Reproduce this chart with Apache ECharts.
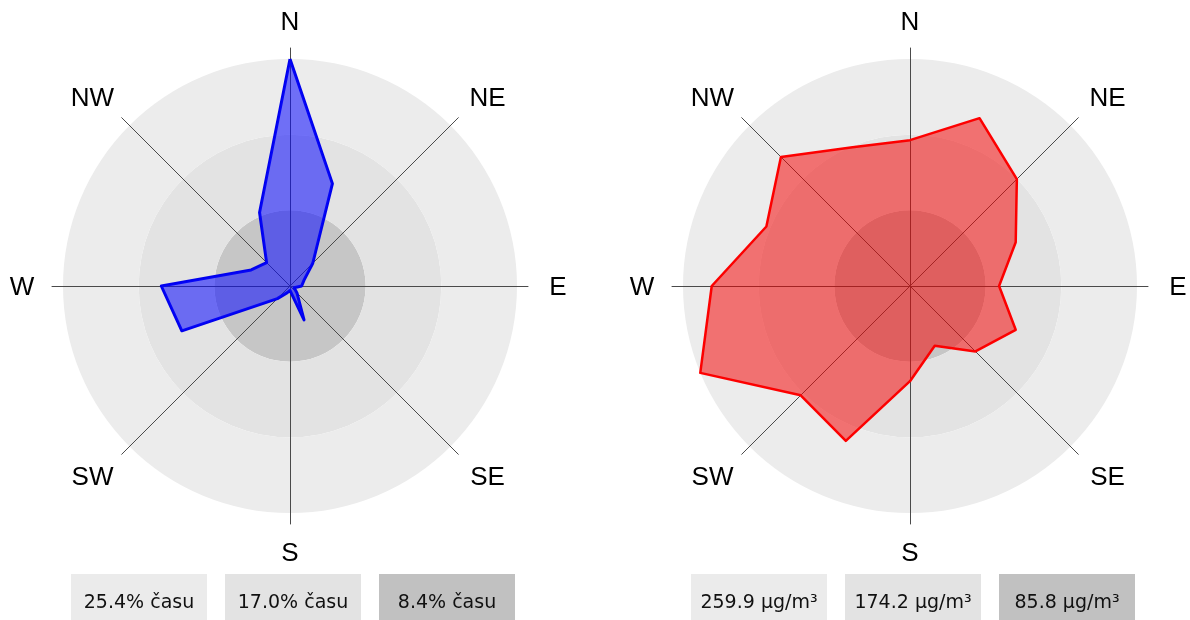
<!DOCTYPE html>
<html>
<head>
<meta charset="utf-8">
<script src="https://cdn.jsdelivr.net/npm/echarts@6/dist/echarts.min.js"></script>
<style>
  html, body { margin: 0; padding: 0; background: #ffffff; }
  #chart { width: 1190px; height: 620px; }
</style>
</head>
<body>
<div id="chart"></div>
<script>
// 16 compass directions, clockwise from North
var directions = ['N','NNE','NE','ENE','E','ESE','SE','SSE','S','SSW','SW','WSW','W','WNW','NW','NNW'];
// share of time per wind direction (%)
var timeShare = [25.4, 12.4, 3.6, 1.7, 1.3, 0.5, 1.1, 4.1, 0.5, 0.8, 2.0, 13.1, 14.4, 4.7, 3.7, 8.9];
// mean concentration per wind direction (µg/m³)
var concentration = [167, 208, 173, 131, 102, 131, 106, 74, 109, 192, 177, 259.9, 227, 178, 209, 172];
// ring values (outer, middle, inner)
var timeRings = [25.4, 17.0, 8.4];
var concRings = [259.9, 174.2, 85.8];
var timeRingLabels = timeRings.map(function (v) { return v.toFixed(1) + '% času'; });
var concRingLabels = concRings.map(function (v) { return v.toFixed(1) + ' µg/m³'; });
// labelled main directions (clockwise from North)
var mainDirections = ['N','NE','E','SE','S','SW','W','NW'];

// ECharts radar lays indicators out counter-clockwise: reorder
function ccw(arr) {
  var out = [arr[0]];
  for (var i = arr.length - 1; i >= 1; i--) out.push(arr[i]);
  return out;
}

var chart = echarts.init(document.getElementById('chart'), null, { renderer: 'canvas' });

var ringColors = ['#c6c6c6', '#e3e3e3', '#ececec'];
var boxColors = ['#ebebeb', '#e3e3e3', '#c1c1c1'];

function dataRadar(cx, max) {
  return {
    center: [cx, 286],
    radius: 227,
    startAngle: 90,
    shape: 'circle',
    splitNumber: 3,
    indicator: directions.map(function () { return { name: '', max: max, min: 0 }; }),
    axisName: { show: false },
    axisLine: { show: false },
    axisTick: { show: false },
    axisLabel: { show: false },
    splitLine: { show: false },
    splitArea: { show: true, areaStyle: { color: ringColors } }
  };
}
function axisRadar(cx) {
  return {
    center: [cx, 286],
    radius: 238,
    startAngle: 90,
    shape: 'polygon',
    indicator: ccw(mainDirections).map(function (d) { return { name: d, max: 1, min: 0 }; }),
    axisName: { show: false },
    axisLine: { show: true, lineStyle: { color: '#4a4a4a', width: 1 } },
    axisTick: { show: false },
    axisLabel: { show: false },
    splitLine: { show: false },
    splitArea: { show: false }
  };
}
function labelPolar(cx) {
  return { center: [cx, 288], radius: 268 };
}
var hidden = { axisLine: { show: false }, axisTick: { show: false }, axisLabel: { show: false }, splitLine: { show: false }, splitArea: { show: false } };
function angleAxis(idx) {
  return Object.assign({ polarIndex: idx, type: 'category', data: mainDirections, startAngle: 90 + 180 / mainDirections.length, clockwise: true, boundaryGap: true }, hidden);
}
function radiusAxis(idx) {
  return Object.assign({ polarIndex: idx, type: 'value', min: 0, max: 1 }, hidden);
}
// small nudges so diagonal labels sit a little wider, like the reference
function labelNudge(i) {
  if (i % 2 === 1) return [i < 4 ? 8 : -8, 0];
  if (i === 0) return [0, 3];
  if (i === 4) return [0, -2];
  return [0, 0];
}
function labelSeries(idx) {
  return {
    type: 'scatter', coordinateSystem: 'polar', polarIndex: idx,
    symbolSize: 0, silent: true,
    itemStyle: { opacity: 1 },
    label: {
      show: true, position: 'inside', color: '#000',
      fontSize: 26, fontFamily: '"Liberation Sans", Arial, sans-serif',
      formatter: function (p) { return p.value[1]; }
    },
    data: mainDirections.map(function (d, i) {
      return { value: [1, d], label: { offset: labelNudge(i) } };
    })
  };
}

function boxes(x0, labels) {
  var els = [];
  labels.forEach(function (t, i) {
    var x = x0 + i * 154;
    els.push({
      type: 'rect', left: x, top: 574,
      shape: { width: 136, height: 60 },
      style: { fill: boxColors[i] }
    });
    els.push({
      type: 'text', x: x + 68, y: 603,
      style: {
        text: t, fill: '#111', font: '19px "DejaVu Sans", Verdana, sans-serif',
        textAlign: 'center', textVerticalAlign: 'middle'
      }
    });
  });
  return els;
}

chart.setOption({
  animation: false,
  backgroundColor: '#ffffff',
  radar: [dataRadar(290, timeRings[0]), dataRadar(910, concRings[0]), axisRadar(290), axisRadar(910)],
  polar: [labelPolar(290), labelPolar(910)],
  angleAxis: [angleAxis(0), angleAxis(1)],
  radiusAxis: [radiusAxis(0), radiusAxis(1)],
  series: [
    {
      type: 'radar', radarIndex: 0, symbol: 'none', z: 3,
      lineStyle: { color: '#0000ee', width: 3 },
      areaStyle: { color: 'rgba(10,10,255,0.55)', opacity: 1 },
      data: [{ value: ccw(timeShare), name: 'čas' }]
    },
    {
      type: 'radar', radarIndex: 1, symbol: 'none', z: 3,
      lineStyle: { color: '#ff0000', width: 2.5 },
      areaStyle: { color: 'rgba(245,0,0,0.52)', opacity: 1 },
      data: [{ value: ccw(concentration), name: 'koncentrácia' }]
    },
    labelSeries(0),
    labelSeries(1)
  ],
  graphic: boxes(71, timeRingLabels).concat(boxes(691, concRingLabels))
});
</script>
</body>
</html>
